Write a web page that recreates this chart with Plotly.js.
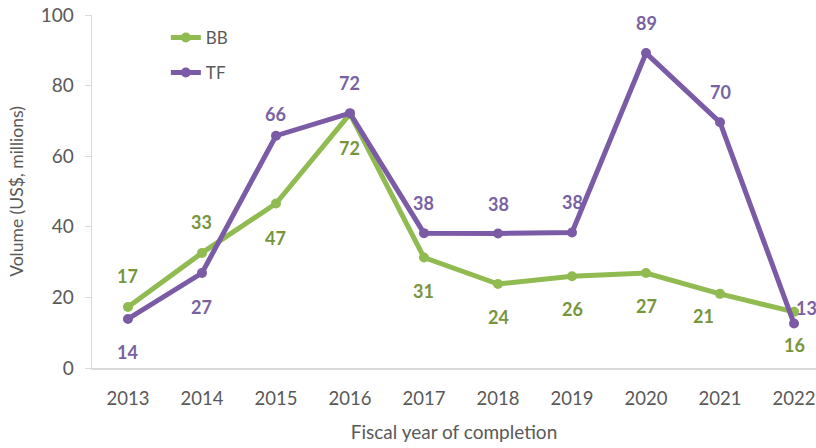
<!DOCTYPE html>
<html>
<head>
<meta charset="utf-8">
<script src="https://cdn.plot.ly/plotly-3.0.1.min.js"></script>
<style>html,body{margin:0;padding:0;background:#fff;}#chart{width:816px;height:448px;}</style>
</head>
<body>
<div id="chart"></div>
<script>
// ---- data ----
const years = ["2013","2014","2015","2016","2017","2018","2019","2020","2021","2022"];
const bbValues = [17.3, 32.6, 46.6, 72.0, 31.3, 23.8, 26.0, 26.9, 21.0, 15.9];
const tfValues = [13.9, 26.9, 65.8, 72.2, 38.2, 38.1, 38.4, 89.2, 69.6, 12.6];
const seriesNames = ["BB", "TF"];

// ---- label placement (style) ----
const bbLabelShift = [[0,31],[0,31],[0,-34],[0,-34],[0,-33],[0,-33],[0,-33],[0,-33],[-17,-22],[0,-33]];
const tfLabelShift = [[0,-33],[0,-34],[0,22],[0,30],[0,30],[0,30],[0,30],[0,30],[0,30],[12,16]];

const green = "#8fbb50", greenText = "#77953c";
const purple = "#7b5ba6", purpleText = "#7862a3";
const xIdx = years.map((_, i) => i);

const traces = [
  {x: xIdx, y: bbValues, name: seriesNames[0], type: "scatter", mode: "lines+markers",
   line: {color: green, width: 5}, marker: {color: green, size: 10}, legend: "legend"},
  {x: xIdx, y: tfValues, name: seriesNames[1], type: "scatter", mode: "lines+markers",
   line: {color: purple, width: 5}, marker: {color: purple, size: 10}, legend: "legend2"}
];

const annotations = [];
bbValues.forEach((v, i) => annotations.push({x: i, y: v, xref: "x", yref: "y", text: String(Math.round(v)),
  showarrow: false, xshift: bbLabelShift[i][0], yshift: bbLabelShift[i][1],
  font: {family: "Lato, sans-serif", size: 18, color: greenText, weight: 700}}));
tfValues.forEach((v, i) => annotations.push({x: i, y: v, xref: "x", yref: "y", text: String(Math.round(v)),
  showarrow: false, xshift: tfLabelShift[i][0], yshift: tfLabelShift[i][1],
  font: {family: "Lato, sans-serif", size: 18, color: purpleText, weight: 700}}));

const legendCommon = {bgcolor: "rgba(0,0,0,0)", font: {family: "Lato, sans-serif", size: 17, color: "#595959"},
  xanchor: "left", yanchor: "middle", itemwidth: 30};

const layout = {
  width: 816, height: 448,
  margin: {l: 92, r: 0, t: 15, b: 80},
  paper_bgcolor: "#fff", plot_bgcolor: "#fff",
  font: {family: "Lato, sans-serif", color: "#595959"},
  showlegend: true,
  legend: Object.assign({x: 0.102, y: 0.935}, legendCommon),
  legend2: Object.assign({x: 0.102, y: 0.836}, legendCommon),
  xaxis: {
    range: [-0.486, 9.297], tickvals: xIdx, ticktext: years,
    showgrid: false, zeroline: false, showline: true, linecolor: "#d9d9d9", linewidth: 1.5,
    ticks: "", ticklabelstandoff: 13, ticklabeloverflow: "allow", tickfont: {size: 18.5, color: "#595959"},
    title: {text: "Fiscal year of completion", font: {size: 19, color: "#595959"}, standoff: 18}
  },
  yaxis: {
    range: [0, 100], tickvals: [0,20,40,60,80,100],
    showgrid: false, zeroline: false, showline: true, linecolor: "#d9d9d9", linewidth: 1.5,
    ticks: "outside", ticklen: 6, tickcolor: "#d9d9d9", ticklabelstandoff: 7,
    tickfont: {size: 19, color: "#595959"},
    title: {text: "Volume (US$, millions)", font: {size: 17.5, color: "#595959"}, standoff: 12}
  },
  annotations: annotations
};

Plotly.newPlot("chart", traces, layout, {displayModeBar: false, staticPlot: true});
</script>
</body>
</html>
